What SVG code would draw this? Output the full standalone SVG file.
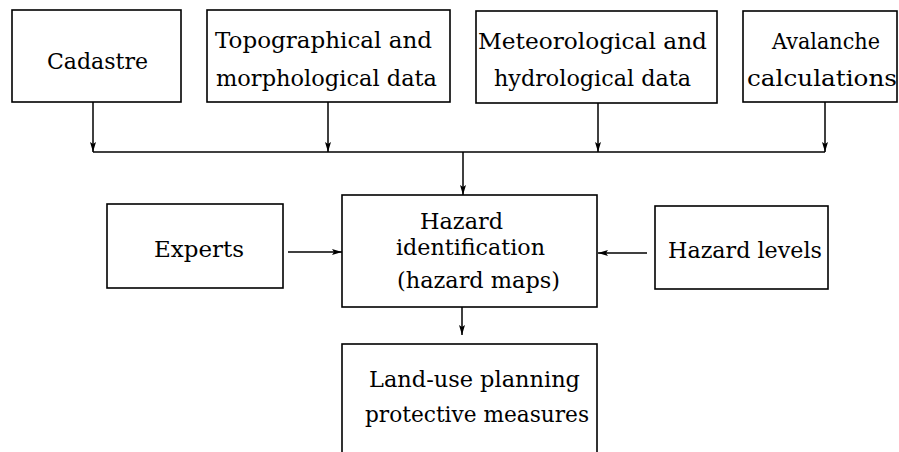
<svg xmlns="http://www.w3.org/2000/svg" width="899" height="452" viewBox="0 0 899 452">
<style>
.box{fill:#fff;stroke:#000;stroke-width:1.6}
.t{font-family:"DejaVu Serif","Liberation Serif",serif;font-size:23px;fill:#000}
.s{font-size:22px}
.c{fill:none;stroke:#000;stroke-width:1.5}
</style>
<defs>
<marker id="ah" viewBox="0 0 10 6" refX="10" refY="3" markerWidth="10" markerHeight="6" markerUnits="userSpaceOnUse" orient="auto">
<path d="M0,0 L10,3 L0,6 L2,3 Z" fill="#000"/>
</marker>
</defs>
<rect width="899" height="452" fill="#fff"/>
<g id="connectors">
<line class="c" x1="93" y1="102" x2="93" y2="152" marker-end="url(#ah)"/>
<line class="c" x1="328" y1="102" x2="328" y2="152" marker-end="url(#ah)"/>
<line class="c" x1="598" y1="103" x2="598" y2="152" marker-end="url(#ah)"/>
<line class="c" x1="825" y1="102" x2="825" y2="152" marker-end="url(#ah)"/>
<line class="c" x1="93" y1="152" x2="825" y2="152"/>
<line class="c" x1="463" y1="152" x2="463" y2="195" marker-end="url(#ah)"/>
<line class="c" x1="288" y1="252" x2="342" y2="252" marker-end="url(#ah)"/>
<line class="c" x1="647" y1="253" x2="598" y2="253" marker-end="url(#ah)"/>
<line class="c" x1="462" y1="307" x2="462" y2="335" marker-end="url(#ah)"/>
</g>
<g id="cadastre">
<rect class="box" x="12" y="10" width="169" height="92"/>
<text class="t" x="47" y="69" textLength="101" lengthAdjust="spacingAndGlyphs">Cadastre</text>
</g>
<g id="topographical">
<rect class="box" x="207" y="10" width="243" height="92"/>
<text class="t" x="215" y="48" textLength="217" lengthAdjust="spacingAndGlyphs">Topographical and</text>
<text class="t" x="216" y="86" textLength="221" lengthAdjust="spacingAndGlyphs">morphological data</text>
</g>
<g id="meteorological">
<rect class="box" x="476" y="11" width="241" height="92"/>
<text class="t" x="478" y="49" textLength="229" lengthAdjust="spacingAndGlyphs">Meteorological and</text>
<text class="t" x="494" y="86" textLength="197" lengthAdjust="spacingAndGlyphs">hydrological data</text>
</g>
<g id="avalanche">
<rect class="box" x="743" y="11" width="154" height="91"/>
<text class="t" x="772" y="49" textLength="108" lengthAdjust="spacingAndGlyphs">Avalanche</text>
<text class="t" x="747" y="86" textLength="150" lengthAdjust="spacingAndGlyphs">calculations</text>
</g>
<g id="experts">
<rect class="box" x="107" y="204" width="176" height="84"/>
<text class="t" x="154" y="257" textLength="90" lengthAdjust="spacingAndGlyphs">Experts</text>
</g>
<g id="hazard-identification">
<rect class="box" x="342" y="195" width="255" height="112"/>
<text class="t s" x="420" y="229" textLength="83" lengthAdjust="spacingAndGlyphs">Hazard</text>
<text class="t s" x="396" y="255" textLength="149" lengthAdjust="spacingAndGlyphs">identification</text>
<text class="t" x="397" y="288" textLength="163" lengthAdjust="spacingAndGlyphs">(hazard maps)</text>
</g>
<g id="hazard-levels">
<rect class="box" x="655" y="206" width="173" height="83"/>
<text class="t" x="668" y="258" textLength="154" lengthAdjust="spacingAndGlyphs">Hazard levels</text>
</g>
<g id="land-use">
<rect class="box" x="342" y="344" width="255" height="120"/>
<text class="t" x="369" y="387" textLength="211" lengthAdjust="spacingAndGlyphs">Land-use planning</text>
<text class="t" x="365" y="422" textLength="224" lengthAdjust="spacingAndGlyphs">protective measures</text>
</g>
</svg>
